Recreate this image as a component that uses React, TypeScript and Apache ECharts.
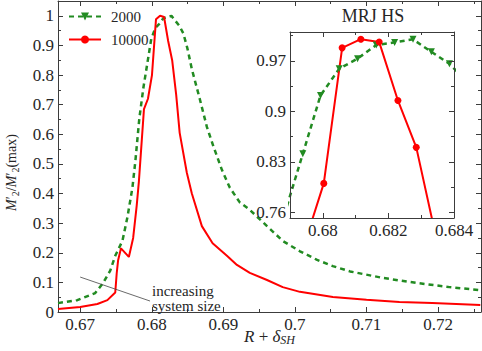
import React, { useEffect, useRef } from "react";
import * as echarts from "echarts";

// ---- data ----
const legendNames = ["2000", "10000"];

const x2000 = [0.6669, 0.6696, 0.6721, 0.6732, 0.6742, 0.6749, 0.6759, 0.6766, 0.6773, 0.67771, 0.67827, 0.67883, 0.67939, 0.67993, 0.6805, 0.68106, 0.68163, 0.68219, 0.68275, 0.68331, 0.68386, 0.68442, 0.68498, 0.6856, 0.6867, 0.6877, 0.6886, 0.6898, 0.6909, 0.6923, 0.6937, 0.6961, 0.6983, 0.7007, 0.7031, 0.7053, 0.7077, 0.7123, 0.717, 0.7216, 0.7259];
const y2000 = [0.03, 0.04, 0.064, 0.098, 0.14, 0.19, 0.24, 0.32, 0.42, 0.51, 0.655, 0.757, 0.841, 0.922, 0.959, 0.973, 0.992, 0.9956, 0.9998, 0.9825, 0.966, 0.94, 0.89, 0.82, 0.72, 0.625, 0.56, 0.48, 0.42, 0.37, 0.345, 0.29, 0.24, 0.205, 0.176, 0.155, 0.137, 0.115, 0.098, 0.084, 0.074];

const x10000 = [0.6669, 0.67, 0.6724, 0.6738, 0.6749, 0.6751, 0.6753, 0.6757, 0.6768, 0.6774, 0.6779, 0.6782, 0.67891, 0.67947, 0.68003, 0.68059, 0.68116, 0.68172, 0.68229, 0.68285, 0.68341, 0.6839, 0.6849, 0.6856, 0.687, 0.6885, 0.6905, 0.6919, 0.6937, 0.6961, 0.6983, 0.7007, 0.7053, 0.71, 0.7146, 0.7192, 0.7259];
const y10000 = [0.01, 0.017, 0.027, 0.04, 0.066, 0.13, 0.175, 0.215, 0.186, 0.25, 0.36, 0.44, 0.685, 0.72, 0.8, 0.988, 1.0, 0.996, 0.915, 0.85, 0.734, 0.605, 0.47, 0.4, 0.29, 0.232, 0.19, 0.159, 0.132, 0.108, 0.084, 0.068, 0.051, 0.041, 0.034, 0.03, 0.024];

const mainXTicks = [0.67, 0.68, 0.69, 0.7, 0.71, 0.72];
const mainYTicks = [0, 0.1, 0.2, 0.3, 0.4, 0.5, 0.6, 0.7, 0.8, 0.9, 1];
const insetXTicks = [0.68, 0.682, 0.684];
const insetYTicks = [0.76, 0.83, 0.9, 0.97];

const insetTitle = "MRJ HS";
const annotationText = "increasing\nsystem size";
const arrowFrom = [0.67, 0.118];
const arrowTo = [0.67976, 0.037];

// ---- styles ----
const FONT = "'Liberation Serif', 'Times New Roman', serif";
const INK = "#262626";
const AXIS = "#3c3c3c";
const GREEN = "#228b22";
const RED = "#ff0000";

const MAIN_X = [0.6669, 0.726];
const MAIN_Y = [0, 1.05];
const INSET_X = [0.679, 0.684];
const INSET_Y = [0.752, 1.01];

function minors(t: number[], range: number[]) {
  const step = t[1] - t[0];
  const out: number[] = [];
  for (let i = -1; i < t.length; i++) {
    const v = +(t[0] + (i + 0.5) * step).toFixed(6);
    if (v > range[0] + 1e-9 && v < range[1] - 1e-9) out.push(v);
  }
  return out;
}

function zip(xs: number[], ys: number[]) {
  return xs.map((x, i) => [x, ys[i]]);
}

function axis(
  gridIndex: number,
  position: string,
  range: number[],
  values: number[],
  len: number,
  showLine: boolean,
  labels: boolean,
  labelSize: number,
  z: number,
  extra: any = {}
) {
  return {
    type: "value",
    gridIndex,
    position,
    min: range[0],
    max: range[1],
    z,
    axisLine: { show: showLine, onZero: false, lineStyle: { color: AXIS, width: 1 } },
    axisTick: {
      show: true,
      inside: true,
      length: len,
      customValues: values,
      lineStyle: { color: AXIS, width: 1 },
    },
    axisLabel: labels
      ? {
          show: true,
          customValues: values,
          margin: 4,
          fontFamily: FONT,
          fontSize: labelSize,
          color: INK,
        }
      : { show: false },
    splitLine: { show: false },
    ...extra,
  };
}

export default function App() {
  const ref = useRef<HTMLDivElement>(null);
  useEffect(() => {
    const chart = echarts.init(ref.current!, null, { renderer: "svg" });
    const xAxes = [
      axis(0, "bottom", MAIN_X, mainXTicks, 5, true, true, 17, 1, {
        name: "{i|R} + {i|δ}{s|SH}",
        nameLocation: "middle",
        nameGap: 14,
        nameMoveOverlap: false,
        nameTextStyle: {
          fontFamily: FONT,
          fontSize: 17,
          color: INK,
          lineHeight: 20,
          rich: {
            i: { fontFamily: FONT, fontSize: 17, fontStyle: "italic", color: INK, lineHeight: 20 },
            s: { fontFamily: FONT, fontSize: 12, fontStyle: "italic", color: INK, lineHeight: 12, verticalAlign: "bottom" },
          },
        },
      }),
      axis(0, "bottom", MAIN_X, minors(mainXTicks, MAIN_X), 3, false, false, 17, 1),
      axis(0, "top", MAIN_X, mainXTicks, 5, true, false, 17, 1),
      axis(0, "top", MAIN_X, minors(mainXTicks, MAIN_X), 3, false, false, 17, 1),
      axis(1, "bottom", INSET_X, insetXTicks, 5, true, true, 17, 10),
      axis(1, "bottom", INSET_X, minors(insetXTicks, INSET_X), 3, false, false, 17, 10),
      axis(1, "top", INSET_X, insetXTicks, 5, true, false, 17, 10),
      axis(1, "top", INSET_X, minors(insetXTicks, INSET_X), 3, false, false, 17, 10),
    ];
    const yAxes = [
      axis(0, "left", MAIN_Y, mainYTicks, 5, true, true, 17, 1, {
        name: "{i|M}′{s|2}/{i|M}′{s|2}(max)",
        nameLocation: "middle",
        nameGap: 38,
        nameMoveOverlap: false,
        nameTextStyle: {
          fontFamily: FONT,
          fontSize: 14,
          color: INK,
          lineHeight: 18,
          padding: [0, 32, 0, 0],
          rich: {
            i: { fontFamily: FONT, fontSize: 14, fontStyle: "italic", color: INK, lineHeight: 18 },
            s: { fontFamily: FONT, fontSize: 10, color: INK, lineHeight: 10, verticalAlign: "bottom" },
          },
        },
      }),
      axis(0, "left", MAIN_Y, minors(mainYTicks, MAIN_Y), 3, false, false, 17, 1),
      axis(0, "right", MAIN_Y, mainYTicks, 5, true, false, 17, 1),
      axis(0, "right", MAIN_Y, minors(mainYTicks, MAIN_Y), 3, false, false, 17, 1),
      axis(1, "left", INSET_Y, insetYTicks, 5, true, true, 17, 10),
      axis(1, "left", INSET_Y, minors(insetYTicks, INSET_Y), 3, false, false, 17, 10),
      axis(1, "right", INSET_Y, insetYTicks, 5, true, false, 17, 10),
      axis(1, "right", INSET_Y, minors(insetYTicks, INSET_Y), 3, false, false, 17, 10),
    ];

    const greenLine = { color: GREEN, width: 2.5, type: [5, 4] as any };
    const redLine = { color: RED, width: 2 };

    chart.setOption({
      animation: false,
      backgroundColor: "#ffffff",
      grid: [
        { left: 58, right: 1, top: 1, bottom: 39, containLabel: false, outerBoundsMode: "none" },
        {
          left: 290,
          top: 32,
          width: 164,
          height: 186,
          show: true,
          backgroundColor: "#ffffff",
          borderWidth: 0,
          z: 8,
          containLabel: false,
          outerBoundsMode: "none",
        },
      ],
      xAxis: xAxes,
      yAxis: yAxes,
      legend: {
        data: legendNames,
        orient: "vertical",
        left: 68,
        top: 9,
        padding: 0,
        itemWidth: 32,
        itemHeight: 10,
        itemGap: 8,
        textStyle: { fontFamily: FONT, fontSize: 15, color: INK, padding: [0, 0, 0, 5] },
      },
      series: [
        {
          name: legendNames[0],
          type: "line",
          xAxisIndex: 0,
          yAxisIndex: 0,
          data: zip(x2000, y2000),
          showSymbol: false,
          symbol: "triangle",
          symbolRotate: 180,
          symbolSize: 8,
          itemStyle: { color: GREEN },
          lineStyle: greenLine,
          z: 2,
        },
        {
          name: legendNames[1],
          type: "line",
          xAxisIndex: 0,
          yAxisIndex: 0,
          data: zip(x10000, y10000),
          showSymbol: false,
          symbol: "circle",
          symbolSize: 8,
          itemStyle: { color: RED },
          lineStyle: redLine,
          z: 3,
          markLine: {
            silent: true,
            symbol: ["none", "arrow"],
            symbolSize: [0, 7],
            label: { show: false },
            lineStyle: { color: "#444", width: 0.8, type: "solid" },
            data: [[{ coord: arrowFrom }, { coord: arrowTo }]],
          },
        },
        {
          name: legendNames[0],
          type: "line",
          xAxisIndex: 4,
          yAxisIndex: 4,
          data: zip(x2000, y2000),
          showSymbol: true,
          showAllSymbol: true,
          symbol: "triangle",
          symbolRotate: 180,
          symbolSize: 7,
          itemStyle: { color: GREEN },
          lineStyle: greenLine,
          z: 9,
        },
        {
          name: legendNames[1],
          type: "line",
          xAxisIndex: 4,
          yAxisIndex: 4,
          data: zip(x10000, y10000),
          showSymbol: true,
          showAllSymbol: true,
          symbol: "circle",
          symbolSize: 7,
          itemStyle: { color: RED },
          lineStyle: redLine,
          z: 9,
        },
      ],
      graphic: [
        {
          type: "text",
          x: 152,
          y: 283,
          z: 5,
          style: {
            text: annotationText,
            fontFamily: FONT,
            fontSize: 15,
            lineHeight: 15,
            fill: INK,
          },
        },
        {
          type: "text",
          x: 373,
          y: 16,
          z: 5,
          style: {
            text: insetTitle,
            fontFamily: FONT,
            fontSize: 18,
            fill: INK,
            align: "center",
            verticalAlign: "middle",
          },
        },
      ],
    });
    return () => chart.dispose();
  }, []);
  return (
    <div
      ref={ref}
      style={{ position: "fixed", left: 0, top: 0, width: 482, height: 351 }}
    />
  );
}
